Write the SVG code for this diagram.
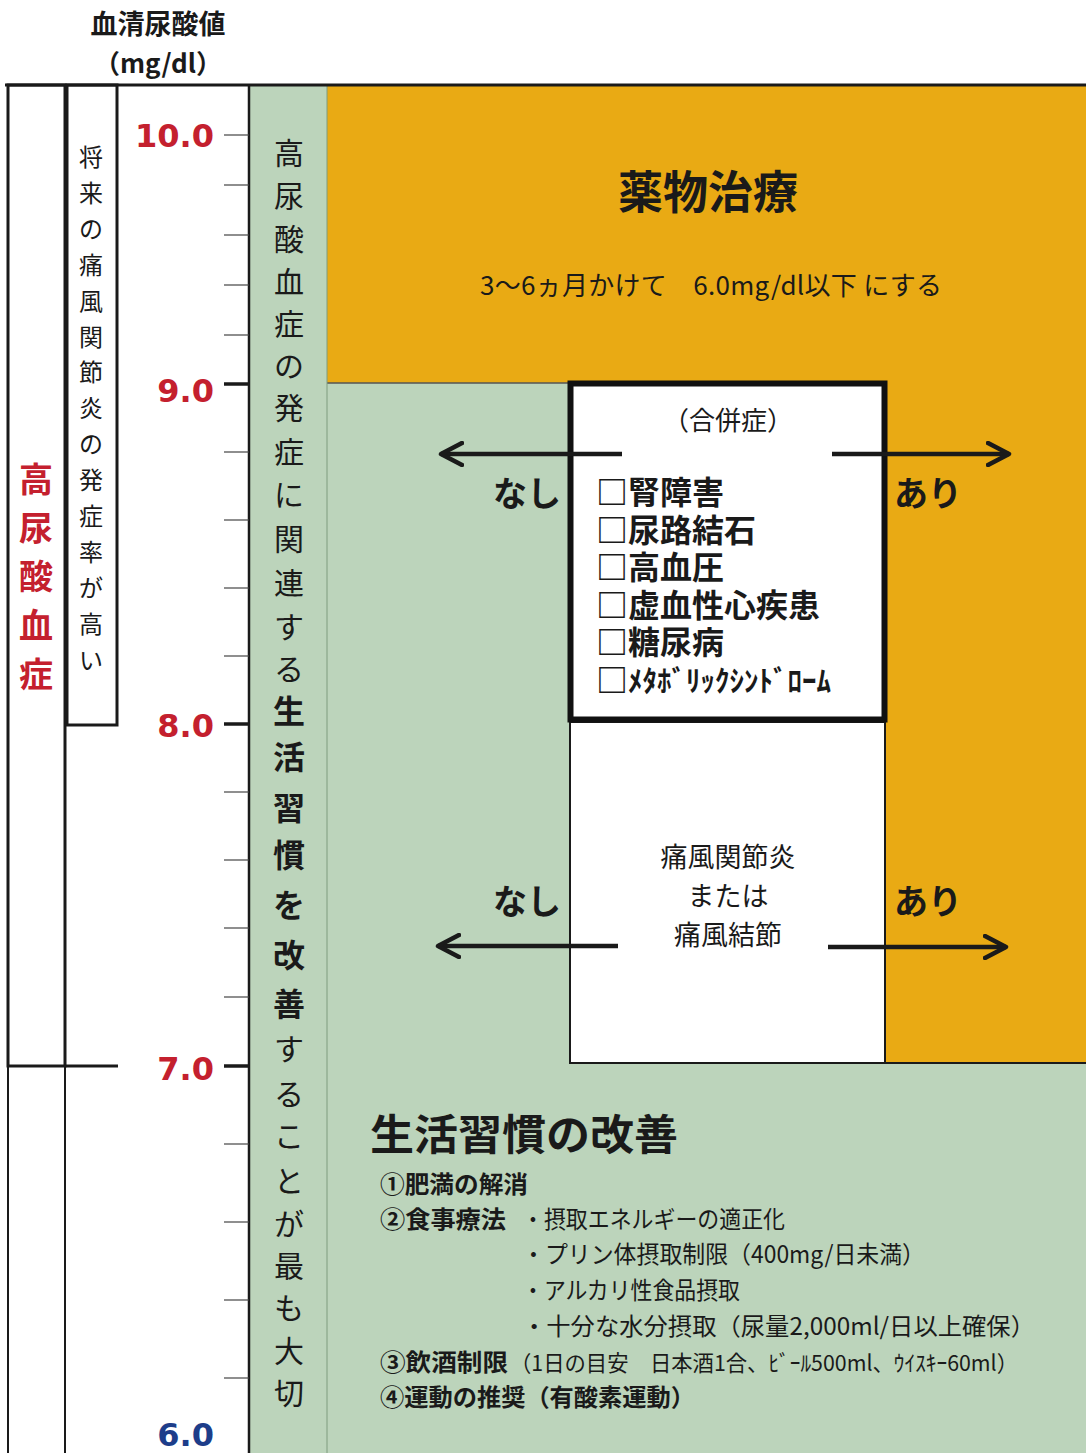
<svg xmlns="http://www.w3.org/2000/svg" width="1086" height="1453" viewBox="0 0 1086 1453">
<style>
.jp{font-family:"Noto Sans CJK JP","Noto Sans CJK SC",sans-serif;fill:#1a1a1a}
.b{font-weight:bold}
.num{font-family:"DejaVu Sans","Liberation Sans",sans-serif;font-weight:bold;font-size:32px;text-anchor:end}
.red{fill:#c4202e}
.blue{fill:#1d3d8a}
.tick{stroke:#444;stroke-width:1.2}
.tickM{stroke:#1a1a1a;stroke-width:3.5}
.frame{fill:none;stroke:#1a1a1a;stroke-width:3}
.arrow{stroke:#1a1a1a;stroke-width:4.5;fill:none;marker-end:url(#chev)}
.green{fill:#bcd4bb}
.orange{fill:#e9aa14}
.vc{text-anchor:middle;dominant-baseline:central}
.item{font-size:32px;font-weight:bold}
</style>
<defs>
<marker id="chev" viewBox="0 0 26 26" refX="23" refY="13" markerWidth="26" markerHeight="26" markerUnits="userSpaceOnUse" orient="auto">
<path d="M2,2 L23,13 L2,24" fill="none" stroke="#1a1a1a" stroke-width="4.5" stroke-linecap="round" stroke-linejoin="round"/>
</marker>
</defs>
<rect x="0" y="0" width="1086" height="1453" fill="#ffffff"/>

<g id="header">
<text class="jp b" x="158" y="34" font-size="27" text-anchor="middle">血清尿酸値</text>
<text class="jp b" x="158" y="73" font-size="26" text-anchor="middle">（mg/dl）</text>
</g>

<g id="regions">
<rect class="green" x="327" y="383" width="759" height="1070"/>
<rect class="orange" x="327" y="85" width="759" height="298"/>
<rect class="orange" x="885" y="383" width="201" height="680"/>
<line x1="327" y1="383" x2="570" y2="383" stroke="#555" stroke-width="1.5"/>
<line x1="885" y1="1063" x2="1086" y2="1063" stroke="#1a1a1a" stroke-width="2"/>
</g>

<g id="axis-column">
<rect class="green" x="249" y="85" width="78" height="1368"/>
<line x1="249" y1="85" x2="249" y2="1453" stroke="#1a1a1a" stroke-width="2.5"/>
<line x1="327" y1="85" x2="327" y2="1453" stroke="#7e9c7e" stroke-width="1"/>
<line x1="5" y1="85" x2="1086" y2="85" stroke="#1a1a1a" stroke-width="3"/>
</g>

<g id="ticks">
<line class="tick" x1="224" y1="135" x2="249" y2="135"/>
<line class="tick" x1="224" y1="185" x2="249" y2="185"/>
<line class="tick" x1="224" y1="235" x2="249" y2="235"/>
<line class="tick" x1="224" y1="285" x2="249" y2="285"/>
<line class="tick" x1="224" y1="335" x2="249" y2="335"/>
<line class="tickM" x1="224" y1="384" x2="249" y2="384"/>
<line class="tick" x1="224" y1="452" x2="249" y2="452"/>
<line class="tick" x1="224" y1="520" x2="249" y2="520"/>
<line class="tick" x1="224" y1="588" x2="249" y2="588"/>
<line class="tick" x1="224" y1="656" x2="249" y2="656"/>
<line class="tickM" x1="224" y1="724" x2="249" y2="724"/>
<line class="tick" x1="224" y1="792" x2="249" y2="792"/>
<line class="tick" x1="224" y1="860" x2="249" y2="860"/>
<line class="tick" x1="224" y1="928" x2="249" y2="928"/>
<line class="tick" x1="224" y1="997" x2="249" y2="997"/>
<line class="tickM" x1="224" y1="1066" x2="249" y2="1066"/>
<line class="tick" x1="224" y1="1144" x2="249" y2="1144"/>
<line class="tick" x1="224" y1="1222" x2="249" y2="1222"/>
<line class="tick" x1="224" y1="1300" x2="249" y2="1300"/>
<line class="tick" x1="224" y1="1378" x2="249" y2="1378"/>
<text class="num red" x="214" y="147">10.0</text>
<text class="num red" x="214" y="402">9.0</text>
<text class="num red" x="214" y="737">8.0</text>
<text class="num red" x="214" y="1080">7.0</text>
<text class="num blue" x="214" y="1446">6.0</text>
</g>

<g id="hyperuricemia-box">
<rect class="frame" x="8" y="85" width="57" height="981"/>
<line x1="64" y1="1066" x2="118" y2="1066" stroke="#1a1a1a" stroke-width="3"/>
<line x1="8" y1="1066" x2="8" y2="1453" stroke="#1a1a1a" stroke-width="2"/>
<line x1="65" y1="1066" x2="65" y2="1453" stroke="#1a1a1a" stroke-width="2"/>
<text class="jp b red vc" font-size="34"><tspan x="36" y="477">高</tspan><tspan x="36" y="526">尿</tspan><tspan x="36" y="574">酸</tspan><tspan x="36" y="623">血</tspan><tspan x="36" y="672">症</tspan></text>
</g>

<g id="gout-risk-box">
<rect class="frame" x="67" y="85" width="50" height="640"/>
<text class="jp vc" font-size="24"><tspan x="91" y="155">将</tspan><tspan x="91" y="191">来</tspan><tspan x="91" y="227">の</tspan><tspan x="91" y="263">痛</tspan><tspan x="91" y="299">風</tspan><tspan x="91" y="335">関</tspan><tspan x="91" y="370">節</tspan><tspan x="91" y="406">炎</tspan><tspan x="91" y="442">の</tspan><tspan x="91" y="478">発</tspan><tspan x="91" y="514">症</tspan><tspan x="91" y="550">率</tspan><tspan x="91" y="586">が</tspan><tspan x="91" y="622">高</tspan><tspan x="91" y="658">い</tspan></text>
</g>

<g id="lifestyle-column-text">
<text class="jp vc" font-size="30"><tspan x="289" y="151">高</tspan><tspan x="289" y="194">尿</tspan><tspan x="289" y="237">酸</tspan><tspan x="289" y="280">血</tspan><tspan x="289" y="322">症</tspan><tspan x="289" y="364">の</tspan><tspan x="289" y="406">発</tspan><tspan x="289" y="450">症</tspan><tspan x="289" y="493">に</tspan><tspan x="289" y="537">関</tspan><tspan x="289" y="581">連</tspan><tspan x="289" y="625">す</tspan><tspan x="289" y="667">る</tspan><tspan x="289" y="709" font-weight="bold" font-size="32">生</tspan><tspan x="289" y="755" font-weight="bold" font-size="32">活</tspan><tspan x="289" y="806" font-weight="bold" font-size="32">習</tspan><tspan x="289" y="853" font-weight="bold" font-size="32">慣</tspan><tspan x="289" y="903" font-weight="bold" font-size="32">を</tspan><tspan x="289" y="953" font-weight="bold" font-size="32">改</tspan><tspan x="289" y="1002" font-weight="bold" font-size="32">善</tspan><tspan x="289" y="1047">す</tspan><tspan x="289" y="1092">る</tspan><tspan x="289" y="1134">こ</tspan><tspan x="289" y="1179">と</tspan><tspan x="289" y="1222">が</tspan><tspan x="289" y="1264">最</tspan><tspan x="289" y="1306">も</tspan><tspan x="289" y="1349">大</tspan><tspan x="289" y="1391">切</tspan></text>
</g>

<g id="drug-therapy">
<text class="jp b" x="708" y="209" font-size="45" text-anchor="middle">薬物治療</text>
<text class="jp" x="480" y="295" font-size="26" textLength="462">3～6ヵ月かけて　6.0mg/dl以下 にする</text>
</g>

<g id="gout-box">
<rect x="570" y="722" width="315" height="341" fill="#ffffff" stroke="#1a1a1a" stroke-width="2"/>
<text class="jp" x="728" y="867" font-size="27" text-anchor="middle">痛風関節炎</text>
<text class="jp" x="728" y="906" font-size="27" text-anchor="middle">または</text>
<text class="jp" x="728" y="945" font-size="27" text-anchor="middle">痛風結節</text>
</g>

<g id="complication-box">
<rect x="570.5" y="383.5" width="314" height="336" fill="#ffffff" stroke="#111" stroke-width="6"/>
<text class="jp" x="728" y="430" font-size="26" text-anchor="middle">（合併症）</text>
<text class="jp item" x="596" y="504">□腎障害</text>
<text class="jp item" x="596" y="542">□尿路結石</text>
<text class="jp item" x="596" y="579">□高血圧</text>
<text class="jp item" x="596" y="617">□虚血性心疾患</text>
<text class="jp item" x="596" y="654">□糖尿病</text>
<text class="jp item" x="596" y="692">□<tspan font-size="29">ﾒﾀﾎﾞﾘｯｸｼﾝﾄﾞﾛｰﾑ</tspan></text>
</g>

<g id="connectors">
<line class="arrow" x1="622" y1="454" x2="441" y2="454"/>
<line class="arrow" x1="832" y1="454" x2="1009" y2="454"/>
<line class="arrow" x1="618" y1="946" x2="438" y2="946"/>
<line class="arrow" x1="828" y1="947" x2="1006" y2="947"/>
</g>

<g id="arrow-labels">
<text class="jp b" x="561" y="506" font-size="34" text-anchor="end">なし</text>
<text class="jp b" x="894" y="506" font-size="34">あり</text>
<text class="jp b" x="561" y="914" font-size="34" text-anchor="end">なし</text>
<text class="jp b" x="894" y="914" font-size="34">あり</text>
</g>

<g id="lifestyle-improvement">
<text class="jp b" x="370" y="1150" font-size="42" textLength="308" lengthAdjust="spacingAndGlyphs">生活習慣の改善</text>
<text class="jp b" x="380" y="1193" font-size="24" textLength="148" lengthAdjust="spacingAndGlyphs">①肥満の解消</text>
<text class="jp b" x="380" y="1228" font-size="24" textLength="126" lengthAdjust="spacingAndGlyphs">②食事療法</text>
<text class="jp" x="522" y="1228" font-size="24" textLength="263" lengthAdjust="spacingAndGlyphs">・摂取エネルギーの適正化</text>
<text class="jp" x="522" y="1263" font-size="24" textLength="403" lengthAdjust="spacingAndGlyphs">・プリン体摂取制限（400mg/日未満）</text>
<text class="jp" x="522" y="1299" font-size="24" textLength="218" lengthAdjust="spacingAndGlyphs">・アルカリ性食品摂取</text>
<text class="jp" x="522" y="1335" font-size="24" textLength="513" lengthAdjust="spacingAndGlyphs">・十分な水分摂取（尿量2,000ml/日以上確保）</text>
<text class="jp b" x="380" y="1371" font-size="24" textLength="128" lengthAdjust="spacingAndGlyphs">③飲酒制限</text>
<text class="jp" x="510" y="1371" font-size="22" textLength="508" lengthAdjust="spacingAndGlyphs">（1日の目安　日本酒1合、ﾋﾞｰﾙ500ml、ｳｲｽｷｰ60ml）</text>
<text class="jp b" x="380" y="1406" font-size="24" textLength="315" lengthAdjust="spacingAndGlyphs">④運動の推奨（有酸素運動）</text>
</g>
</svg>
